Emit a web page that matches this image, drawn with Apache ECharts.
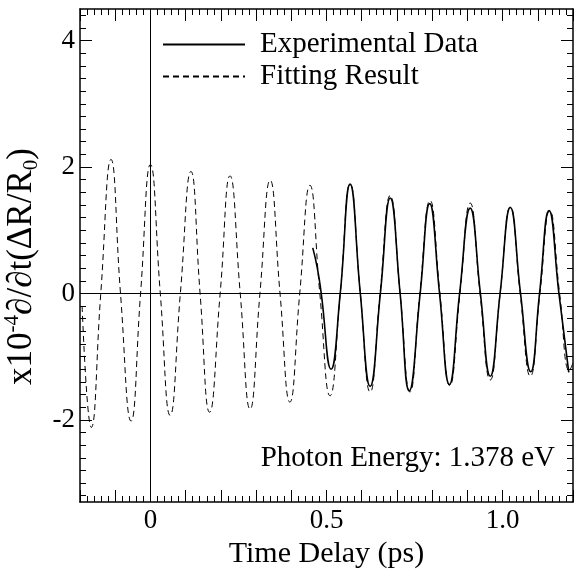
<!DOCTYPE html>
<html>
<head>
<meta charset="utf-8">
<script src="https://cdn.jsdelivr.net/npm/echarts@6/dist/echarts.min.js"></script>
<style>
  html, body { margin: 0; padding: 0; background: #fff; }
  #chart { width: 576px; height: 570px; }
</style>
</head>
<body>
<div id="chart"></div>
<script>
// fitting result (dashed): time in ps, signal in 1e-4
let fitTime = [-0.194, -0.168, -0.141, -0.112, -0.085, -0.055, -0.028, 0.000, 0.028, 0.056,
    0.085, 0.115, 0.141, 0.168, 0.198, 0.226, 0.255, 0.283, 0.311, 0.340,
    0.368, 0.396, 0.424, 0.453, 0.481, 0.510, 0.539, 0.567, 0.596, 0.624,
    0.652, 0.681, 0.709, 0.737, 0.765, 0.794, 0.822, 0.850, 0.879, 0.908,
    0.936, 0.965, 0.993, 1.022, 1.050, 1.079, 1.106, 1.134, 1.162, 1.190, 1.200];
let fitValue = [-0.2, -2.12, 0, 2.12, 0, -2.02, 0, 2.04, 0, -1.93,
    0, 1.93, 0, -1.88, 0, 1.86, 0, -1.83, 0, 1.79,
    0, -1.72, 0, 1.71, 0, -1.62, 0, 1.73, 0, -1.56,
    0, 1.55, 0, -1.56, 0, 1.47, 0, -1.46, 0, 1.43,
    0, -1.37, 0, 1.37, 0, -1.31, 0, 1.31, 0, -1.22, -1.1];

// experimental data (solid)
let expTime = [0.461, 0.474, 0.485, 0.513, 0.539, 0.567, 0.596, 0.624, 0.653, 0.681,
    0.709, 0.735, 0.766, 0.793, 0.821, 0.849, 0.878, 0.908, 0.937, 0.965,
    0.993, 1.022, 1.051, 1.080, 1.105, 1.132, 1.160, 1.188];
let expValue = [0.72, 0.4, 0, -1.20, 0, 1.73, 0, -1.47, 0, 1.51,
    0, -1.54, 0, 1.42, 0, -1.44, 0, 1.35, 0, -1.31,
    0, 1.36, 0, -1.24, 0, 1.31, 0, -1.25];

let xLabelValues = [0, 0.5, 1.0];
let xLabelTexts = ['0', '0.5', '1.0'];
let yLabelValues = [-2, 0, 2, 4];
let yLabelTexts = ['-2', '0', '2', '4'];

let fontName = 'Liberation Serif';

function pairs(xs, ys){
    let out = [];
    for(let i = 0;i<xs.length;i++){
        out.push([xs[i], ys[i]]);
    }
    return out;
}

function setChart(){
    let myChart = echarts.init(document.getElementById('chart'));

    // minor ticks of the y axis every 0.2
    let yMinor = [];
    for(let i = -16;i<=22;i++){
        yMinor.push(Math.round(i*0.2*10)/10);
    }

    let xAxisBase = {
        type: 'value', min: -0.2, max: 1.2, interval: 0.1,
        axisLine: {show: true, onZero: false, lineStyle: {color: '#000', width: 1.5}},
        axisTick: {show: true, inside: true, length: 12, lineStyle: {color: '#000', width: 1}},
        minorTick: {show: true, splitNumber: 5, length: 6, lineStyle: {color: '#000', width: 1}},
        splitLine: {show: false},
        axisLabel: {show: false}
    };
    let yMajor = {
        type: 'value', min: -3.3, max: 4.5,
        axisLine: {show: true, onZero: false, lineStyle: {color: '#000', width: 1.5}},
        axisTick: {show: true, inside: true, length: 12, customValues: yLabelValues, lineStyle: {color: '#000', width: 1}},
        splitLine: {show: false},
        axisLabel: {show: false}
    };
    let yMinorAxis = {
        type: 'value', min: -3.3, max: 4.5,
        axisLine: {show: false, onZero: false},
        axisTick: {show: true, inside: true, length: 6, customValues: yMinor, lineStyle: {color: '#000', width: 1}},
        splitLine: {show: false},
        axisLabel: {show: false}
    };

    let option = {
        animation: false,
        grid: {left: 80, right: 3, top: 9, bottom: 68, outerBoundsMode: 'none', containLabel: false},
        legend: {
            orient: 'vertical',
            left: 162, top: 30, padding: 0,
            itemWidth: 82, itemHeight: 14, itemGap: 3,
            itemStyle: {opacity: 0},
            textStyle: {fontFamily: fontName, fontSize: 29, color: '#000', padding: [0, 0, 0, 10]},
            data: ['Experimental Data', 'Fitting Result']
        },
        xAxis: [
            Object.assign({}, xAxisBase, {
                position: 'bottom',
                name: 'Time Delay (ps)', nameLocation: 'middle', nameGap: 31,
                nameTextStyle: {fontFamily: fontName, fontSize: 30, color: '#000'},
                axisLabel: {
                    show: true, margin: 5, customValues: xLabelValues,
                    fontFamily: fontName, fontSize: 27, color: '#000',
                    formatter: function(v){
                        for(let i = 0;i<xLabelValues.length;i++){
                            if(Math.abs(v - xLabelValues[i]) < 1e-6) return xLabelTexts[i];
                        }
                        return '';
                    }
                }
            }),
            Object.assign({}, xAxisBase, {position: 'top'})
        ],
        yAxis: [
            Object.assign({}, yMajor, {
                position: 'left',
                name: '{n|x10}{sup|-4}{n|∂/∂t(ΔR/R}{sub|0}{n|)}',
                nameLocation: 'middle', nameGap: 27, nameRotate: 90,
                nameTextStyle: {
                    fontFamily: fontName, fontSize: 35, color: '#000',
                    padding: [0, 22, 0, 0],
                    rich: {
                        n: {fontFamily: fontName, fontSize: 35, color: '#000', lineHeight: 40},
                        sup: {fontFamily: fontName, fontSize: 21, color: '#000', verticalAlign: 'top', lineHeight: 40},
                        sub: {fontFamily: fontName, fontSize: 21, color: '#000', verticalAlign: 'bottom', lineHeight: 40}
                    }
                },
                axisLabel: {
                    show: true, margin: 5, customValues: yLabelValues,
                    fontFamily: fontName, fontSize: 27, color: '#000',
                    formatter: function(v){
                        for(let i = 0;i<yLabelValues.length;i++){
                            if(Math.abs(v - yLabelValues[i]) < 1e-6) return yLabelTexts[i];
                        }
                        return '';
                    }
                }
            }),
            Object.assign({}, yMinorAxis, {position: 'left'}),
            Object.assign({}, yMajor, {position: 'right'}),
            Object.assign({}, yMinorAxis, {position: 'right'})
        ],
        graphic: [{
            type: 'text', right: 21, top: 444,
            style: {text: 'Photon Energy: 1.378 eV', font: '29px "Liberation Serif"', fill: '#000'}
        }],
        series: [{
            name: 'Experimental Data',
            type: 'line',
            symbol: 'none',
            smooth: true,
            data: pairs(expTime, expValue),
            lineStyle: {color: '#000', width: 1.6, type: 'solid'},
            itemStyle: {color: '#000'},
            z: 3
        },{
            name: 'Fitting Result',
            type: 'line',
            symbol: 'none',
            smooth: true,
            data: pairs(fitTime, fitValue),
            lineStyle: {color: '#000', width: 1, type: [6, 4]},
            itemStyle: {color: '#000'},
            markLine: {
                silent: true, symbol: 'none', label: {show: false},
                lineStyle: {color: '#000', width: 1, type: 'solid'},
                data: [{yAxis: 0}, {xAxis: 0}]
            },
            z: 2
        }]
    };

    myChart.setOption(option);
}

window.onload = function (){
    setChart();
}
</script>
</body>
</html>
